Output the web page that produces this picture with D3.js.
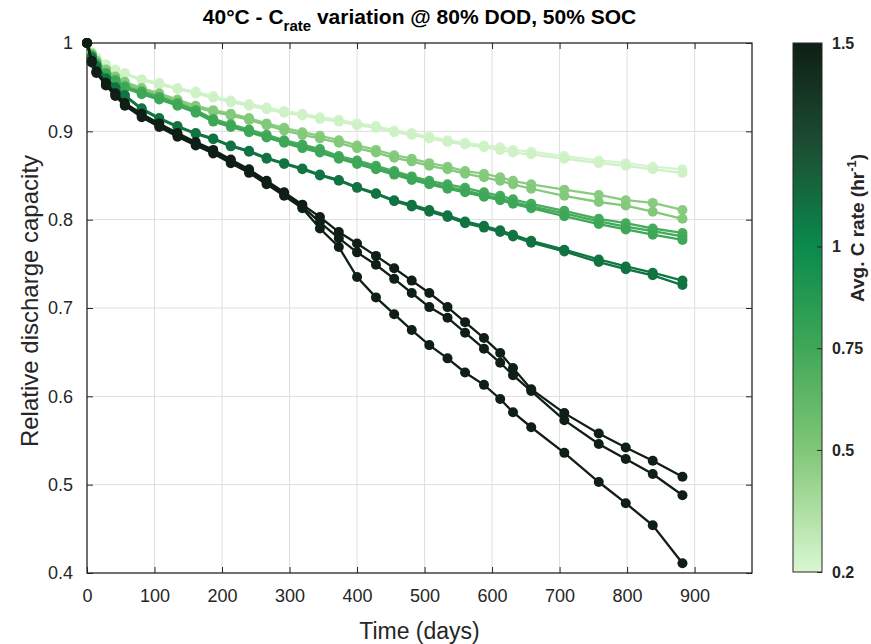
<!DOCTYPE html>
<html>
<head>
<meta charset="utf-8">
<script src="https://d3js.org/d3.v7.min.js"></script>
<style>
  html, body { margin: 0; padding: 0; background: #ffffff; }
  svg { display: block; font-family: "Liberation Sans", Arial, Helvetica, sans-serif; }
</style>
</head>
<body>
<svg id="chart" width="871" height="644"></svg>
<script>
// ---------------- DATA ----------------
const days = [0, 7, 14, 28, 42, 56, 81, 107, 134, 161, 187, 213, 240, 266, 292, 319, 345, 373, 400, 428, 455, 481, 507, 534, 560, 588, 612, 631, 658, 707, 758, 798, 838, 882];

const seriesNames = ["g1a", "g1b", "g2a", "g2b", "g3a", "g3b", "g3c", "g4a", "g4b", "dk1", "dk2", "dk3"];
const cRates = [0.22, 0.24, 0.47, 0.49, 0.72, 0.74, 0.76, 1.08, 1.10, 1.5, 1.5, 1.5];

const g1a = [1, 0.990, 0.984, 0.976, 0.970, 0.966, 0.959, 0.955, 0.949, 0.945, 0.940, 0.935, 0.931, 0.927, 0.923, 0.920, 0.916, 0.913, 0.909, 0.906, 0.901, 0.898, 0.894, 0.890, 0.887, 0.884, 0.882, 0.879, 0.877, 0.872, 0.867, 0.864, 0.860, 0.857];
const g1b = [1, 0.989, 0.983, 0.975, 0.969, 0.965, 0.958, 0.953, 0.948, 0.943, 0.938, 0.933, 0.929, 0.925, 0.921, 0.918, 0.914, 0.911, 0.907, 0.904, 0.899, 0.896, 0.892, 0.888, 0.885, 0.882, 0.879, 0.876, 0.874, 0.869, 0.864, 0.861, 0.857, 0.853];
const g2a = [1, 0.988, 0.980, 0.970, 0.962, 0.956, 0.949, 0.943, 0.936, 0.929, 0.924, 0.920, 0.915, 0.909, 0.904, 0.899, 0.895, 0.890, 0.884, 0.879, 0.873, 0.869, 0.864, 0.860, 0.855, 0.852, 0.848, 0.844, 0.840, 0.834, 0.828, 0.822, 0.819, 0.811];
const g2b = [1, 0.987, 0.979, 0.969, 0.961, 0.954, 0.947, 0.941, 0.934, 0.927, 0.922, 0.918, 0.913, 0.907, 0.901, 0.896, 0.892, 0.887, 0.881, 0.876, 0.870, 0.866, 0.861, 0.857, 0.852, 0.848, 0.844, 0.840, 0.835, 0.827, 0.820, 0.816, 0.809, 0.801];
const g3a = [1, 0.986, 0.977, 0.966, 0.958, 0.951, 0.945, 0.939, 0.932, 0.924, 0.914, 0.908, 0.902, 0.896, 0.890, 0.885, 0.880, 0.872, 0.867, 0.861, 0.855, 0.849, 0.844, 0.840, 0.836, 0.831, 0.827, 0.823, 0.818, 0.810, 0.801, 0.796, 0.790, 0.785];
const g3b = [1, 0.985, 0.976, 0.965, 0.957, 0.950, 0.944, 0.937, 0.930, 0.922, 0.913, 0.907, 0.901, 0.894, 0.888, 0.883, 0.878, 0.870, 0.865, 0.859, 0.853, 0.847, 0.842, 0.837, 0.833, 0.828, 0.824, 0.820, 0.815, 0.807, 0.798, 0.792, 0.787, 0.781];
const g3c = [1, 0.985, 0.975, 0.964, 0.956, 0.949, 0.942, 0.936, 0.929, 0.921, 0.911, 0.905, 0.899, 0.893, 0.887, 0.881, 0.876, 0.869, 0.863, 0.857, 0.851, 0.845, 0.840, 0.835, 0.831, 0.826, 0.822, 0.818, 0.813, 0.804, 0.795, 0.789, 0.783, 0.777];
const g4a = [1, 0.984, 0.974, 0.960, 0.950, 0.941, 0.926, 0.915, 0.906, 0.898, 0.892, 0.884, 0.878, 0.870, 0.864, 0.858, 0.851, 0.845, 0.837, 0.830, 0.822, 0.817, 0.811, 0.805, 0.798, 0.793, 0.788, 0.783, 0.776, 0.766, 0.755, 0.747, 0.740, 0.731];
const g4b = [1, 0.983, 0.973, 0.959, 0.949, 0.940, 0.925, 0.914, 0.905, 0.897, 0.891, 0.883, 0.877, 0.869, 0.863, 0.857, 0.850, 0.844, 0.836, 0.829, 0.821, 0.815, 0.809, 0.803, 0.796, 0.791, 0.786, 0.781, 0.774, 0.764, 0.752, 0.744, 0.737, 0.726];
const dk1 = [1, 0.980, 0.968, 0.955, 0.943, 0.932, 0.920, 0.909, 0.898, 0.888, 0.879, 0.868, 0.857, 0.844, 0.831, 0.817, 0.803, 0.786, 0.773, 0.759, 0.745, 0.731, 0.717, 0.701, 0.684, 0.666, 0.649, 0.632, 0.608, 0.581, 0.558, 0.542, 0.527, 0.509];
const dk2 = [1, 0.979, 0.967, 0.953, 0.941, 0.930, 0.918, 0.907, 0.896, 0.886, 0.877, 0.866, 0.855, 0.842, 0.829, 0.815, 0.797, 0.779, 0.763, 0.749, 0.733, 0.717, 0.701, 0.689, 0.672, 0.654, 0.638, 0.624, 0.606, 0.573, 0.546, 0.529, 0.512, 0.488];
const dk3 = [1, 0.978, 0.966, 0.952, 0.940, 0.929, 0.916, 0.905, 0.894, 0.884, 0.875, 0.864, 0.853, 0.840, 0.827, 0.813, 0.790, 0.769, 0.735, 0.712, 0.693, 0.675, 0.658, 0.643, 0.627, 0.613, 0.597, 0.582, 0.565, 0.536, 0.503, 0.479, 0.454, 0.411];

const seriesValues = [g1a, g1b, g2a, g2b, g3a, g3b, g3c, g4a, g4b, dk1, dk2, dk3];

const xTicks = [0, 100, 200, 300, 400, 500, 600, 700, 800, 900];
const yTicks = [0.4, 0.5, 0.6, 0.7, 0.8, 0.9, 1];
const cbTicks = [0.2, 0.5, 0.75, 1, 1.5];
const cmapStops = [0.2, 0.35, 0.5, 0.75, 1.0, 1.25, 1.5];
const cmapColors = ["#d9f7d2", "#aedfa3", "#80c777", "#3fa857", "#0a8a4c", "#1c4d32", "#0f1f15"];

// ---------------- LAYOUT ----------------
const svg = d3.select("#chart");
const M = { left: 87, right: 752, top: 43, bottom: 573 };
const x = d3.scaleLinear().domain([0, 985]).range([M.left, M.right]);
const y = d3.scaleLinear().domain([0.4, 1]).range([M.bottom, M.top]);
const color = d3.scaleLinear().domain(cmapStops).range(cmapColors).interpolate(d3.interpolateRgb);
const axisColor = "#262626";

// grid
const grid = svg.append("g");
grid.selectAll("line.vx").data(xTicks.filter(t => t > 0)).enter().append("line")
  .attr("x1", d => x(d)).attr("x2", d => x(d)).attr("y1", M.top).attr("y2", M.bottom)
  .attr("stroke", "#dedede").attr("stroke-width", 1);
grid.selectAll("line.hy").data(yTicks.filter(t => t > 0.4 && t < 1)).enter().append("line")
  .attr("y1", d => y(d)).attr("y2", d => y(d)).attr("x1", M.left).attr("x2", M.right)
  .attr("stroke", "#dedede").attr("stroke-width", 1);

// axes
const xAxis = d3.axisBottom(x).tickValues(xTicks).tickSizeInner(-6).tickSizeOuter(0).tickPadding(16).tickFormat(d3.format("d"));
const xAxisTop = d3.axisTop(x).tickValues(xTicks).tickSizeInner(-6).tickSizeOuter(0).tickFormat("");
const yAxis = d3.axisLeft(y).tickValues(yTicks).tickSizeInner(-6).tickSizeOuter(0).tickPadding(14).tickFormat(d => d === 1 ? "1" : d3.format(".1f")(d));
const yAxisRight = d3.axisRight(y).tickValues(yTicks).tickSizeInner(-6).tickSizeOuter(0).tickFormat("");

function styleAxis(g) {
  g.select(".domain").remove();
  g.selectAll(".tick line").attr("stroke", axisColor);
  g.selectAll(".tick text").attr("fill", axisColor).style("font-size", "18px")
    .style("font-family", "'Liberation Sans', Arial, sans-serif");
}
svg.append("g").attr("transform", `translate(0,${M.bottom})`).call(xAxis).call(styleAxis);
svg.append("g").attr("transform", `translate(0,${M.top})`).call(xAxisTop).call(styleAxis);
svg.append("g").attr("transform", `translate(${M.left},0)`).call(yAxis).call(styleAxis);
svg.append("g").attr("transform", `translate(${M.right},0)`).call(yAxisRight).call(styleAxis);

// box
svg.append("rect").attr("x", M.left).attr("y", M.top).attr("width", M.right - M.left).attr("height", M.bottom - M.top)
  .attr("fill", "none").attr("stroke", axisColor).attr("stroke-width", 1.3);

// series
const line = d3.line().x((d, i) => x(days[i])).y(d => y(d));
const plot = svg.append("g");
seriesValues.forEach((vals, si) => {
  const c = color(cRates[si]);
  const g = plot.append("g").attr("class", seriesNames[si]);
  g.append("path").datum(vals).attr("d", line).attr("fill", "none").attr("stroke", c).attr("stroke-width", 2.3);
  g.selectAll("circle").data(vals).enter().append("circle")
    .attr("cx", (d, i) => x(days[i])).attr("cy", d => y(d)).attr("r", 5).attr("fill", c);
});

// title
const title = svg.append("text").attr("x", (M.left + M.right) / 2).attr("y", 24).attr("text-anchor", "middle")
  .attr("fill", "#000").style("font-size", "21px").style("font-weight", "bold");
title.append("tspan").text("40°C - C");
title.append("tspan").attr("dy", 7).style("font-size", "15px").text("rate");
title.append("tspan").attr("dy", -7).text(" variation @ 80% DOD, 50% SOC");

// axis labels
svg.append("text").attr("x", (M.left + M.right) / 2).attr("y", 639).attr("text-anchor", "middle")
  .attr("fill", axisColor).style("font-size", "23px").text("Time (days)");
svg.append("text").attr("transform", `translate(38,301) rotate(-90)`).attr("text-anchor", "middle")
  .attr("fill", axisColor).style("font-size", "24px").text("Relative discharge capacity");

// colorbar
const CB = { x: 793, w: 29, top: 43, bottom: 572 };
const cbScale = d3.scaleLinear().domain([0.2, 1.5]).range([CB.bottom, CB.top]);
const defs = svg.append("defs");
const grad = defs.append("linearGradient").attr("id", "cbgrad").attr("x1", 0).attr("y1", 1).attr("x2", 0).attr("y2", 0);
grad.selectAll("stop").data(cmapStops).enter().append("stop")
  .attr("offset", d => (d - 0.2) / 1.3).attr("stop-color", d => color(d));
svg.append("rect").attr("x", CB.x).attr("y", CB.top).attr("width", CB.w).attr("height", CB.bottom - CB.top)
  .attr("fill", "url(#cbgrad)").attr("stroke", axisColor).attr("stroke-width", 1);
const cbAxis = d3.axisRight(cbScale).tickValues(cbTicks).tickSizeInner(-5).tickSizeOuter(0).tickPadding(10)
  .tickFormat(d => String(d));
svg.append("g").attr("transform", `translate(${CB.x + CB.w},0)`).call(cbAxis).call(g => {
  g.select(".domain").remove();
  g.selectAll(".tick line").attr("stroke", axisColor);
  g.selectAll(".tick text").attr("fill", axisColor).style("font-size", "16px").style("font-weight", "bold");
});
const cbl = svg.append("text").attr("transform", `translate(864,228) rotate(-90)`).attr("text-anchor", "middle")
  .attr("fill", axisColor).style("font-size", "19px").style("font-weight", "bold");
cbl.append("tspan").text("Avg. C rate (hr");
cbl.append("tspan").attr("dy", -8).style("font-size", "13px").text("-1");
cbl.append("tspan").attr("dy", 8).text(")");
</script>
</body>
</html>
